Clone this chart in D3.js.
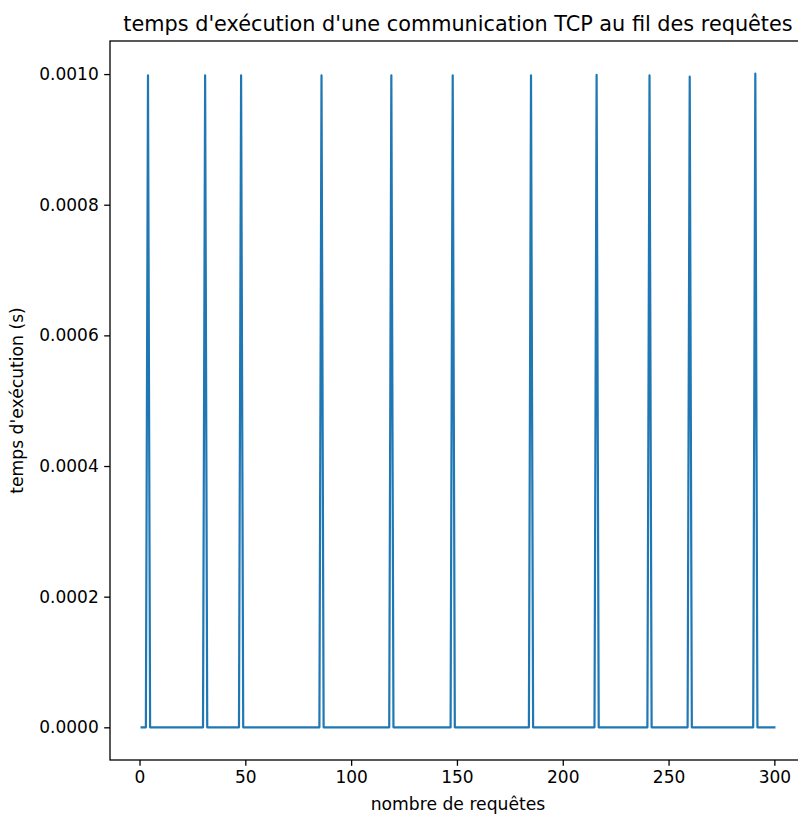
<!DOCTYPE html>
<html>
<head>
<meta charset="utf-8">
<script src="https://cdn.jsdelivr.net/npm/d3@7"></script>
<style>
  body { margin: 0; background: #fff; }
  text { font-family: "DejaVu Sans", sans-serif; fill: #000; }
</style>
</head>
<body>
<div id="chart"></div>
<script>
// request numbers (x axis)
const requests = d3.range(1, 301);
// requests where the communication took longer
const spikeRequests = [4, 31, 48, 86, 119, 148, 185, 216, 241, 260, 291];
const spikeTimes = [0.000998, 0.000998, 0.000998, 0.000998, 0.000998, 0.000998,
                    0.000998, 0.000999, 0.000998, 0.000996, 0.0010006];
const baseTime = 0;
const yTicks = [0, 0.0002, 0.0004, 0.0006, 0.0008, 0.0010];
const xTicks = [0, 50, 100, 150, 200, 250, 300];

const width = 798, height = 814;
const plotLeft = 110, plotRight = 806, plotTop = 41, plotBottom = 760;

let series = requests.map(r => {
    let i = spikeRequests.indexOf(r);
    return {x: r, y: i >= 0 ? spikeTimes[i] : baseTime};
});

let svg = d3.select('#chart').append('svg')
    .attr('width', width)
    .attr('height', height);

// matplotlib-like 5% margins around the data
let xMin = d3.min(requests), xMax = d3.max(requests);
let xPad = (xMax - xMin) * 0.05;
let x = d3.scaleLinear().domain([xMin - xPad, xMax + xPad]).range([plotLeft, plotRight]);

let yMax = d3.max(series, d => d.y), yMin = d3.min(series, d => d.y);
let yPad = (yMax - yMin) * 0.05;
let y = d3.scaleLinear().domain([yMin - yPad, yMax + yPad]).range([plotBottom, plotTop]);

let line = d3.line().x(d => x(d.x)).y(d => y(d.y));

svg.append('path').datum(series)
    .attr('d', line)
    .attr('fill', 'none')
    .attr('stroke', '#1f77b4')
    .attr('stroke-width', 2.2)
    .attr('stroke-linejoin', 'round')
    .attr('stroke-linecap', 'square');

// frame
svg.append('rect')
    .attr('x', plotLeft).attr('y', plotTop)
    .attr('width', plotRight - plotLeft).attr('height', plotBottom - plotTop)
    .attr('fill', 'none')
    .attr('stroke', '#000')
    .attr('stroke-width', 1.3);

let xAxis = svg.append('g')
    .attr('transform', `translate(0,${plotBottom})`)
    .call(d3.axisBottom(x).tickValues(xTicks).tickSize(5.8).tickPadding(5.5).tickFormat(d3.format('d')));
let yAxis = svg.append('g')
    .attr('transform', `translate(${plotLeft},0)`)
    .call(d3.axisLeft(y).tickValues(yTicks).tickSize(5.8).tickPadding(5.5).tickFormat(d3.format('.4f')));

for (let ax of [xAxis, yAxis]) {
    ax.select('.domain').remove();
    ax.selectAll('.tick line').attr('stroke', '#000').attr('stroke-width', 1.3);
    ax.selectAll('.tick text').style('font-size', '17px').attr('fill', '#000');
}

svg.append('text')
    .attr('x', (plotLeft + plotRight) / 2).attr('y', 31)
    .attr('text-anchor', 'middle')
    .style('font-size', '20.8px')
    .text("temps d'exécution d'une communication TCP au fil des requêtes");

svg.append('text')
    .attr('x', (plotLeft + plotRight) / 2).attr('y', 810)
    .attr('text-anchor', 'middle')
    .style('font-size', '17.2px')
    .text('nombre de requêtes');

svg.append('text')
    .attr('transform', `translate(23,${(plotTop + plotBottom) / 2}) rotate(-90)`)
    .attr('text-anchor', 'middle')
    .style('font-size', '17.2px')
    .text("temps d'exécution (s)");
</script>
</body>
</html>
